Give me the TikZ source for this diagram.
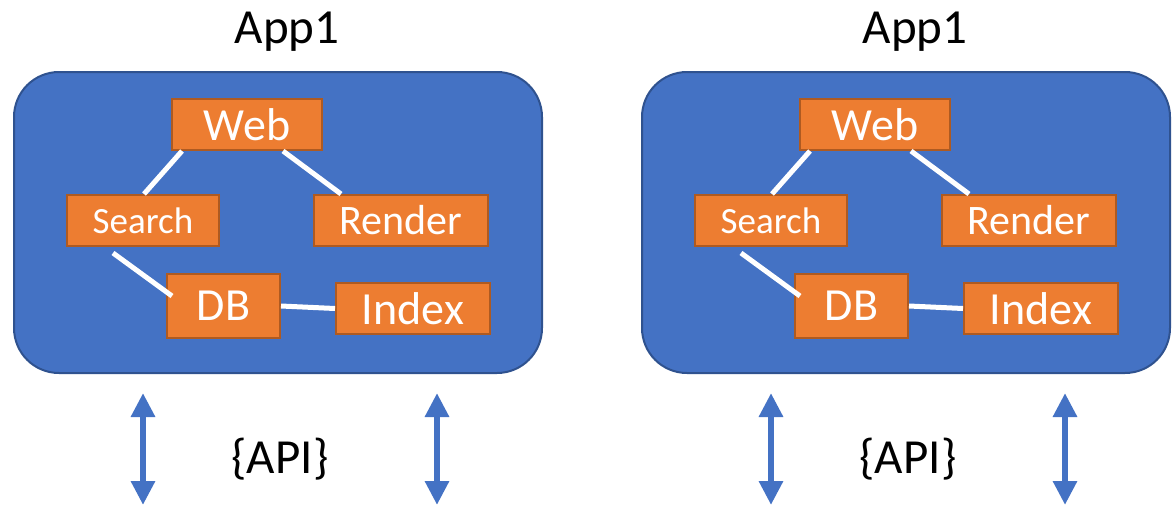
\documentclass[tikz,border=0pt]{standalone}
\usepackage{fontspec}
\setmainfont{Carlito}
\usetikzlibrary{calc,arrows.meta}
\definecolor{appblue}{HTML}{4472C4}
\definecolor{appblueborder}{HTML}{2F528F}
\definecolor{svcorange}{HTML}{ED7D31}
\definecolor{svcborder}{HTML}{AE5A21}
\tikzset{
  appbox/.style={draw=appblueborder, line width=2pt, fill=appblue, rounded corners=45pt,
    minimum width=528pt, minimum height=301pt, inner sep=0pt},
  svc/.style={draw=svcborder, line width=2pt, fill=svcorange, text=white, inner sep=0pt,
    minimum height=51pt},
  link/.style={draw=white, line width=5pt},
  apiarrow/.style={draw=appblue, line width=6pt,
    {Triangle[width=23pt,length=24pt]}-{Triangle[width=23pt,length=24pt]}},
  title/.style={anchor=base, font=\fontsize{49}{55}\selectfont, inner sep=0pt},
}
\begin{document}
\begin{tikzpicture}[x=1pt,y=-1pt]
\useasboundingbox (0,0) rectangle (1173,507);
\foreach \p/\dx in {L/0,R/628}{
\begin{scope}[xshift=\dx]
  \node[title] (\p title) at (287,43) {App1};
  \node[appbox] (\p app) at (278,222.5) {};
  \node[svc, minimum width=150pt, font=\fontsize{46}{50}\selectfont] (\p web) at (247,124.5) {Web};
  \node[svc, minimum width=152pt, font=\fontsize{37}{42}\selectfont] (\p search) at (143,220.5) {Search};
  \node[svc, minimum width=174pt, font=\fontsize{42}{46}\selectfont] (\p render) at (401,220.5) {Render};
  \node[svc, minimum width=113pt, minimum height=64pt, font=\fontsize{46}{50}\selectfont] (\p db) at (223.5,306) {DB};
  \node[svc, minimum width=154pt, font=\fontsize{46}{50}\selectfont] (\p index) at (413,308.5) {Index};
  \draw[link] ($(\p web.south west)+(11,0)$) -- ($(\p search.north west)+(78,0)$);
  \draw[link] ($(\p web.south west)+(112,0)$) -- ($(\p render.north west)+(28,0)$);
  \draw[link] ($(\p search.south west)+(47,6)$) -- ($(\p db.north west)+(6,23)$);
  \draw[link] (\p db.east) -- (\p index.west);
  \node[title] (\p api) at (280,473) {\{API\}};
  \coordinate (\p a1top) at (143,393);
  \coordinate (\p a1bot) at (143,505);
  \coordinate (\p a2top) at (437,393);
  \coordinate (\p a2bot) at (437,505);
  \draw[apiarrow] (\p a1top) -- (\p a1bot);
  \draw[apiarrow] (\p a2top) -- (\p a2bot);
\end{scope}
}
\end{tikzpicture}
\end{document}
